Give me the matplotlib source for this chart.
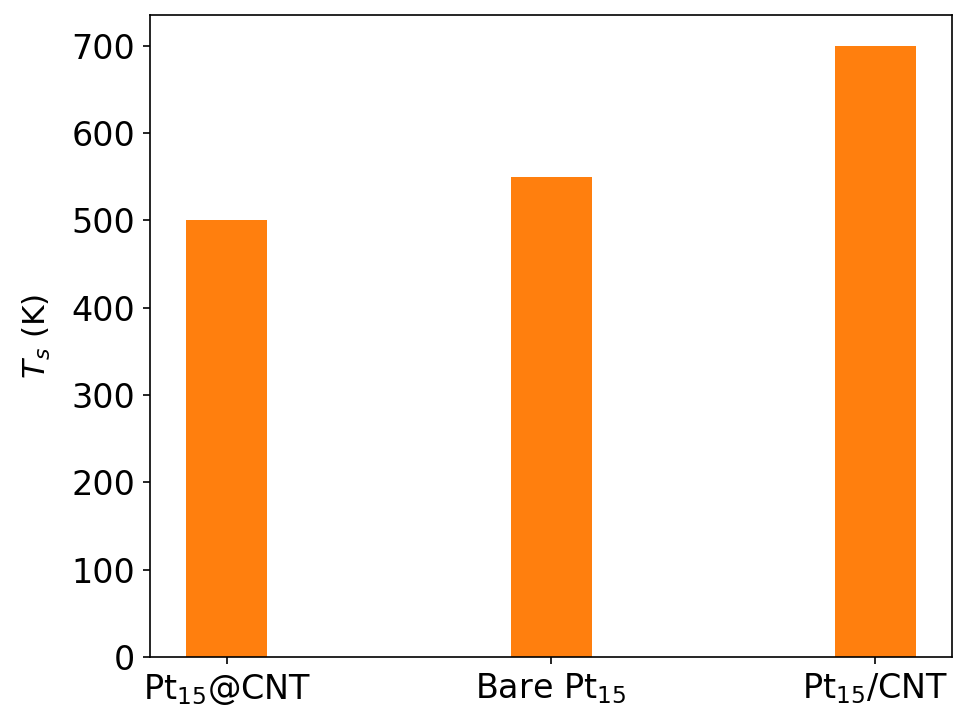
import matplotlib
matplotlib.use("Agg")
import matplotlib.pyplot as plt

# data
systems = ["Pt$_{15}$@CNT", "Bare Pt$_{15}$", "Pt$_{15}$/CNT"]
ts_values = [500, 550, 700]

plt.rcParams['font.size'] = 16

fig, ax = plt.subplots(figsize=(955/150, 719/150), dpi=150)
ax.bar(range(len(systems)), ts_values, width=0.25, color="C1")
ax.set_xticks(range(len(systems)))
ax.set_xticklabels(systems)
ax.set_ylabel("$T_s$ (K)", fontsize=15, labelpad=9)

fig.subplots_adjust(left=0.157, right=0.997, top=0.979, bottom=0.086)
fig.savefig("out.png", dpi=150)
